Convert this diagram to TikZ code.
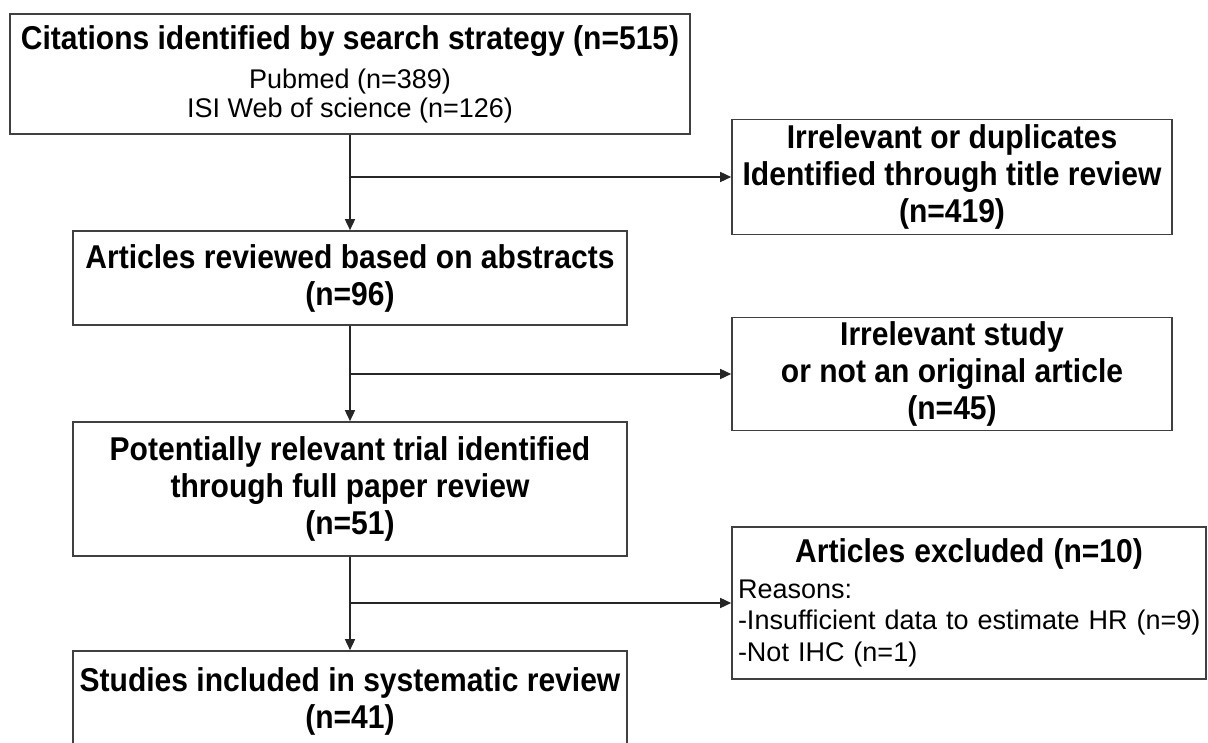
\documentclass[tikz,border=0pt]{standalone}
\usepackage{fontspec}
\setmainfont{Liberation Sans}
\newfontfamily\tallfont[FakeStretch=0.91]{Liberation Sans}
\usetikzlibrary{arrows.meta, positioning}

\newcommand{\headfont}{\tallfont\fontsize{33}{37}\selectfont\bfseries}
\newcommand{\bodyfont}{\fontsize{27}{29}\selectfont}

\begin{document}
\begin{tikzpicture}[x=1pt, y=-1pt,
    box/.style={rectangle, draw=black!75, line width=1.6pt, align=center, inner sep=4pt, font=\headfont},
    arr/.style={-{Triangle[length=11pt, width=10pt]}, draw=black!85, line width=1.5pt}
    ]
    \useasboundingbox (0,0) rectangle (1208,743);

    % Search results
    \node[box, minimum width=680pt, minimum height=120pt, font=\bodyfont] (search) at (350,74) {{\headfont Citations identified by search strategy (n=515)}\\[10pt]Pubmed (n=389)\\ISI Web of science (n=126)};

    % Title review
    \node[box, minimum width=440pt, minimum height=115pt] (dup) at (952,177) {Irrelevant or duplicates\\Identified through title review\\(n=419)};

    % Abstracts
    \node[box, minimum width=554pt, minimum height=94pt] (abstr) at (350,278) {Articles reviewed based on abstracts\\(n=96)};
    \draw[arr] (search) -- (abstr);
    \coordinate (b1) at (search.south |- dup.west);
    \draw[arr] (b1) -- (dup);

    % Not original
    \node[box, minimum width=440pt, minimum height=113pt] (irrel) at (952,374) {Irrelevant study\\or not an original article\\(n=45)};

    % Full paper review
    \node[box, minimum width=554pt, minimum height=134pt] (full) at (350,489) {Potentially relevant trial identified\\through full paper review\\(n=51)};
    \draw[arr] (abstr) -- (full);
    \coordinate (b2) at (abstr.south |- irrel.west);
    \draw[arr] (b2) -- (irrel);

    % Exclusions
    \node[box, text width=462pt, inner xsep=6pt, minimum height=152pt, align=left, font=\fontsize{27}{31.5}\selectfont] (excl) at (969,603) {{\centering\headfont Articles excluded (n=10)\par}\vspace{4pt}Reasons:\\\mbox{-Insufficient data to estimate HR (n=9)}\\-Not IHC (n=1)};

    % Included
    \node[box, minimum width=554pt, minimum height=100pt] (incl) at (350,701) {Studies included in systematic review\\(n=41)};
    \draw[arr] (full) -- (incl);
    \coordinate (b3) at (full.south |- excl.west);
    \draw[arr] (b3) -- (excl);

\end{tikzpicture}
\end{document}
